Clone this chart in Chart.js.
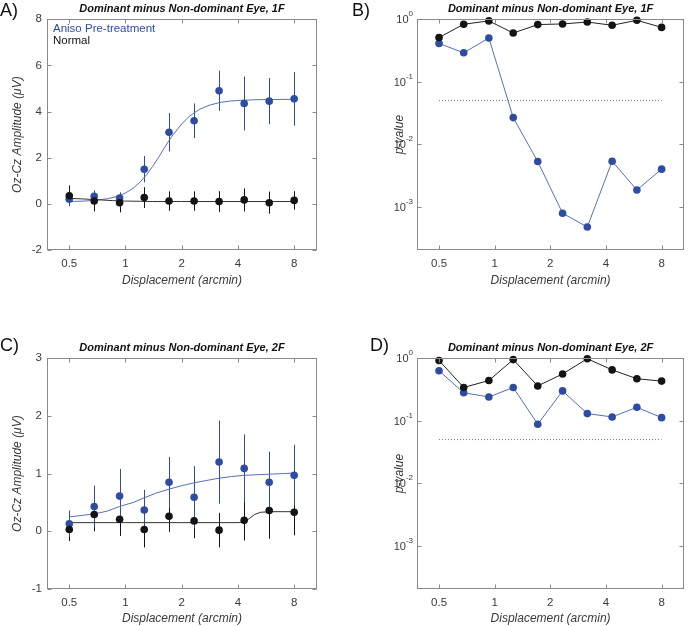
<!DOCTYPE html>
<html>
<head>
<meta charset="utf-8">
<script src="https://cdn.jsdelivr.net/npm/chart.js@4"></script>
<style>
  html, body { margin: 0; padding: 0; background: #fff; }
  #wrap { position: relative; width: 688px; height: 626px; }
  canvas { position: absolute; }
</style>
</head>
<body>
<div id="wrap">
  <canvas id="chartA" style="left:0;top:0" width="344" height="310"></canvas>
  <canvas id="chartB" style="left:344px;top:0" width="344" height="310"></canvas>
  <canvas id="chartC" style="left:0;top:310px" width="344" height="316"></canvas>
  <canvas id="chartD" style="left:344px;top:310px" width="344" height="316"></canvas>
</div>
<script>
// displacement values (arcmin), shared by all panels
const displacement = [0.5, 0.68, 0.93, 1.26, 1.71, 2.33, 3.17, 4.32, 5.88, 8];
const xTickValues = [0.5, 1, 2, 4, 8];
const pTickValues = [1, 0.1, 0.01, 0.001];
const pTickExponents = ['0', '-1', '-2', '-3'];
const alphaLevel = 0.05;

// A) 1F amplitude
const ampA_aniso = [0.2, 0.33, 0.25, 1.5, 3.1, 3.6, 4.9, 4.35, 4.45, 4.55];
const errA_aniso = [0.3, 0.25, 0.25, 0.57, 0.83, 0.75, 0.87, 1.17, 1.0, 1.16];
const ampA_normal = [0.35, 0.12, 0.05, 0.27, 0.12, 0.12, 0.1, 0.17, 0.05, 0.15];
const errA_normal = [0.45, 0.45, 0.42, 0.45, 0.42, 0.42, 0.45, 0.5, 0.48, 0.4];
const fitA_anisoX = [0.5, 0.6, 0.7, 0.8, 0.9, 1.0, 1.1, 1.2, 1.3, 1.4, 1.5, 1.6, 1.7, 1.8, 2.0, 2.2, 2.5, 2.8, 3.2, 3.6, 4.0, 5.0, 6.0, 8.0];
const fitA_anisoY = [0.1, 0.12, 0.16, 0.22, 0.32, 0.47, 0.68, 0.95, 1.27, 1.63, 2.0, 2.37, 2.71, 3.0, 3.46, 3.8, 4.1, 4.27, 4.39, 4.45, 4.48, 4.51, 4.52, 4.53];
const fitA_normalX = [0.5, 0.6, 0.7, 0.85, 1.0, 1.2, 1.4, 2.0, 8.0];
const fitA_normalY = [0.24, 0.21, 0.18, 0.14, 0.12, 0.11, 0.1, 0.1, 0.1];

// B) 1F p-values
const pB_normal = [0.51, 0.83, 0.94, 0.6, 0.82, 0.84, 0.9, 0.8, 0.96, 0.74];
const pB_aniso = [0.41, 0.29, 0.5, 0.0267, 0.0053, 0.00079, 0.000475, 0.00535, 0.00186, 0.004];

// C) 2F amplitude
const ampC_aniso = [0.13, 0.43, 0.61, 0.37, 0.85, 0.59, 1.2, 1.09, 0.85, 0.97];
const errC_aniso = [0.23, 0.36, 0.47, 0.35, 0.44, 0.54, 0.72, 0.59, 0.53, 0.53];
const ampC_normal = [0.03, 0.29, 0.21, 0.03, 0.26, 0.18, 0.02, 0.19, 0.36, 0.33];
const errC_normal = [0.2, 0.29, 0.29, 0.31, 0.27, 0.3, 0.3, 0.35, 0.49, 0.4];
const fitC_anisoX = [0.5, 0.6, 0.7, 0.8, 0.93, 1.1, 1.26, 1.45, 1.71, 2.0, 2.33, 2.7, 3.17, 3.7, 4.32, 5.0, 5.88, 7.0, 8.0];
const fitC_anisoY = [0.25, 0.28, 0.31, 0.35, 0.43, 0.5, 0.58, 0.66, 0.73, 0.79, 0.84, 0.88, 0.92, 0.95, 0.97, 0.98, 0.99, 1.0, 1.01];
const fitC_normalX = [0.5, 1.0, 2.0, 4.0, 4.3, 4.6, 4.9, 5.3, 6.0, 8.0];
const fitC_normalY = [0.15, 0.15, 0.15, 0.15, 0.16, 0.22, 0.29, 0.33, 0.34, 0.34];

// D) 2F p-values
const pD_normal = [0.92, 0.34, 0.44, 0.95, 0.36, 0.56, 0.98, 0.65, 0.47, 0.43];
const pD_aniso = [0.63, 0.28, 0.24, 0.34, 0.088, 0.3, 0.13, 0.115, 0.164, 0.112];

const BLUE = '#2f4ca3';
const BLUE_FIT = '#5670b8';
const BLACK = '#141414';
const TEXT = '#3a3a3a';
const FONT = "'Liberation Sans', Arial, Helvetica, sans-serif";

const pts = (xs, ys) => xs.map((x, i) => ({ x: x, y: ys[i] }));

// error bars, frame with inward ticks, power-of-ten labels, panel letter, legend
const panelPlugin = {
  id: 'panel',
  beforeDatasetsDraw(chart) {
    const ctx = chart.ctx, ys = chart.scales.y;
    ctx.save();
    ctx.lineWidth = 1;
    chart.data.datasets.forEach((ds, i) => {
      if (!ds.errors || !chart.isDatasetVisible(i)) return;
      ctx.strokeStyle = ds.borderColor;
      const meta = chart.getDatasetMeta(i);
      meta.data.forEach((el, j) => {
        const v = ds.data[j].y, e = ds.errors[j];
        const x = Math.round(el.x) + 0.5;
        ctx.beginPath();
        ctx.moveTo(x, ys.getPixelForValue(v - e));
        ctx.lineTo(x, ys.getPixelForValue(v + e));
        ctx.stroke();
      });
    });
    ctx.restore();
  },
  afterDraw(chart, args, opts) {
    const ctx = chart.ctx, a = chart.chartArea;
    const xs = chart.scales.x, ys = chart.scales.y;
    ctx.save();
    ctx.strokeStyle = '#8a8a8a';
    ctx.lineWidth = 1;
    const L = Math.round(a.left) + 0.5, R = Math.round(a.right) - 0.5;
    const T = Math.round(a.top) + 0.5, B = Math.round(a.bottom) - 0.5;
    ctx.strokeRect(L, T, R - L, B - T);
    const tl = 4;
    ctx.beginPath();
    xs.ticks.forEach(t => {
      const x = Math.round(xs.getPixelForValue(t.value)) + 0.5;
      ctx.moveTo(x, B); ctx.lineTo(x, B - tl);
      ctx.moveTo(x, T); ctx.lineTo(x, T + tl);
    });
    ys.ticks.forEach(t => {
      const y = Math.round(ys.getPixelForValue(t.value)) + 0.5;
      ctx.moveTo(L, y); ctx.lineTo(L + tl, y);
      ctx.moveTo(R, y); ctx.lineTo(R - tl, y);
    });
    ctx.stroke();

    if (opts.powerLabels) {
      ctx.fillStyle = TEXT;
      ctx.textAlign = 'right';
      ctx.textBaseline = 'middle';
      ys.ticks.forEach(t => {
        const y = ys.getPixelForValue(t.value);
        const exp = pTickExponents[pTickValues.indexOf(t.value)];
        const right = a.left - 4;
        ctx.font = '8px ' + FONT;
        const ew = ctx.measureText(exp).width;
        ctx.fillText(exp, right, y - 5);
        ctx.font = '11px ' + FONT;
        ctx.fillText('10', right - ew, y + 1);
      });
    }

    ctx.fillStyle = '#111';
    ctx.font = '18px ' + FONT;
    ctx.textBaseline = 'middle';
    ctx.textAlign = 'left';
    ctx.fillText(opts.letter, opts.letterX, opts.letterY);

    if (opts.legend) {
      ctx.font = '11.5px ' + FONT;
      opts.legend.forEach((item, k) => {
        ctx.fillStyle = item.color;
        ctx.fillText(item.text, a.left + 6, a.top + 10 + k * 12);
      });
    }
    ctx.restore();
  }
};

function makeChart(id, cfg) {
  const logY = cfg.logY;
  return new Chart(document.getElementById(id), {
    type: 'line',
    data: { datasets: cfg.datasets },
    options: {
      responsive: false,
      animation: false,
      layout: { padding: cfg.padding },
      elements: {
        line: { borderWidth: 1, tension: 0 },
        point: { radius: 3.8, borderWidth: 0, hoverRadius: 3.8 }
      },
      plugins: {
        legend: { display: false },
        tooltip: { enabled: false },
        title: {
          display: true,
          text: cfg.title,
          fullSize: false,
          color: '#111',
          font: { family: FONT, size: 11, weight: 'bold', style: 'italic' },
          padding: { top: 2, bottom: 4 }
        },
        panel: cfg.panel
      },
      scales: {
        x: {
          type: 'logarithmic',
          min: 0.38,
          max: 10.6,
          afterBuildTicks: s => { s.ticks = xTickValues.map(v => ({ value: v })); },
          afterFit: s => { s.height = cfg.xHeight; },
          grid: { display: false, drawTicks: false },
          border: { display: false },
          ticks: {
            color: TEXT, padding: 7, maxRotation: 0, autoSkip: false,
            font: { family: FONT, size: 11.5 },
            callback: v => String(v)
          },
          title: {
            display: true, text: 'Displacement (arcmin)', color: TEXT,
            font: { family: FONT, size: 12, style: 'italic' }, padding: 0
          }
        },
        y: logY ? {
          type: 'logarithmic',
          min: 0.000204,
          max: 1,
          afterBuildTicks: s => { s.ticks = pTickValues.map(v => ({ value: v })); },
          afterFit: s => { s.width = cfg.yWidth; },
          grid: { display: false, drawTicks: false },
          border: { display: false },
          ticks: { display: false },
          title: {
            display: true, text: 'p-value', color: TEXT,
            font: { family: FONT, size: 12, style: 'italic' }, padding: { top: 48 }
          }
        } : {
          type: 'linear',
          min: cfg.yMin,
          max: cfg.yMax,
          afterFit: s => { s.width = cfg.yWidth; },
          grid: { display: false, drawTicks: false },
          border: { display: false },
          ticks: {
            color: TEXT, padding: 5, stepSize: cfg.yStep,
            font: { family: FONT, size: 11.5 }
          },
          title: {
            display: true, text: 'Oz-Cz Amplitude (\u03BCV)', color: TEXT,
            font: { family: FONT, size: 12, style: 'italic' }, padding: { top: 10 }
          }
        }
      }
    },
    plugins: [panelPlugin]
  });
}

function ampSets(fitBX, fitBY, fitKX, fitKY, ampB, errB, ampK, errK) {
  return [
    { data: pts(displacement, ampK), errors: errK, showLine: false, borderColor: BLACK, backgroundColor: BLACK, clip: false, order: 1 },
    { data: pts(displacement, ampB), errors: errB, showLine: false, borderColor: BLUE, backgroundColor: BLUE, clip: false, order: 2 },
    { data: pts(fitKX, fitKY), borderColor: '#333', pointRadius: 0, order: 3 },
    { data: pts(fitBX, fitBY), borderColor: BLUE_FIT, pointRadius: 0, order: 4 }
  ];
}

function pSets(pNormal, pAniso) {
  return [
    { data: pts(displacement, pNormal), borderColor: '#222', backgroundColor: BLACK, clip: false, order: 1 },
    { data: pts(displacement, pAniso), borderColor: BLUE_FIT, backgroundColor: BLUE, clip: false, order: 2 },
    { data: pts([displacement[0], displacement[displacement.length - 1]], [alphaLevel, alphaLevel]),
      borderColor: '#777', borderDash: [1, 2], pointRadius: 0, order: 3 }
  ];
}

makeChart('chartA', {
  title: 'Dominant minus Non-dominant Eye, 1F',
  padding: { top: 0, right: 27, bottom: 22, left: 0 },
  xHeight: 38, yWidth: 47, yMin: -2, yMax: 8, yStep: 2,
  datasets: ampSets(fitA_anisoX, fitA_anisoY, fitA_normalX, fitA_normalY, ampA_aniso, errA_aniso, ampA_normal, errA_normal),
  panel: { letter: 'A)', letterX: 0, letterY: 11,
    legend: [{ text: 'Aniso Pre-treatment', color: BLUE }, { text: 'Normal', color: '#111' }] }
});

makeChart('chartB', {
  title: 'Dominant minus Non-dominant Eye, 1F',
  padding: { top: 0, right: 1, bottom: 22, left: 0 },
  xHeight: 38, yWidth: 73, logY: true,
  datasets: pSets(pB_normal, pB_aniso),
  panel: { letter: 'B)', letterX: 8, letterY: 11, powerLabels: true }
});

makeChart('chartC', {
  title: 'Dominant minus Non-dominant Eye, 2F',
  padding: { top: 29, right: 27, bottom: 0, left: 0 },
  xHeight: 37, yWidth: 47, yMin: -1, yMax: 3, yStep: 1,
  datasets: ampSets(fitC_anisoX, fitC_anisoY, fitC_normalX, fitC_normalY, ampC_aniso, errC_aniso, ampC_normal, errC_normal),
  panel: { letter: 'C)', letterX: 0, letterY: 36 }
});

makeChart('chartD', {
  title: 'Dominant minus Non-dominant Eye, 2F',
  padding: { top: 29, right: 1, bottom: 0, left: 0 },
  xHeight: 37, yWidth: 73, logY: true,
  datasets: pSets(pD_normal, pD_aniso),
  panel: { letter: 'D)', letterX: 26, letterY: 36, powerLabels: true }
});
</script>
</body>
</html>
